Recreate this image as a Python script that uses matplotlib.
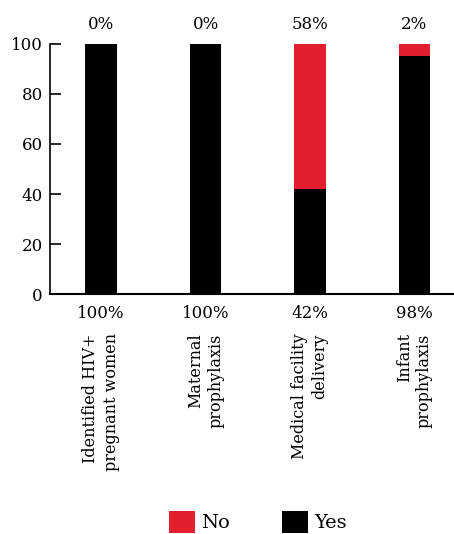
import matplotlib
matplotlib.use("Agg")
import matplotlib.pyplot as plt
from matplotlib.patches import Patch

plt.rcParams.update({
    "font.family": "DejaVu Serif",
    "font.size": 12,
})

categories = ["Identified HIV+\npregnant women", "Maternal\nprophylaxis",
              "Medical facility\ndelivery", "Infant\nprophylaxis"]
yes_vals = [100, 100, 42, 95]
no_vals = [0, 0, 58, 5]
yes_labels = ["100%", "100%", "42%", "98%"]
no_labels = ["0%", "0%", "58%", "2%"]

red = "#E31E2D"

fig = plt.figure(figsize=(4.54, 5.34), dpi=100)
ax = fig.add_axes([0.110, 0.449, 0.89, 0.469])

x = range(len(categories))
ax.bar(x, yes_vals, width=0.3, color="black", label="Yes")
ax.bar(x, no_vals, width=0.3, bottom=yes_vals, color=red, label="No")

ax.set_xlim(-0.49, 3.38)
ax.set_ylim(0, 100)
ax.set_yticks([0, 20, 40, 60, 80, 100])
ax.set_xticks([])
ax.tick_params(axis="y", direction="in", length=8, width=1.2, labelsize=12, pad=5)
for s in ["top", "right"]:
    ax.spines[s].set_visible(False)
ax.spines["left"].set_linewidth(1.2)
ax.spines["bottom"].set_linewidth(1.5)

trans = ax.get_xaxis_transform()
for i in x:
    ax.text(i, 1.076, no_labels[i], transform=trans, ha="center", va="center", fontsize=12)
    ax.text(i, -0.076, yes_labels[i], transform=trans, ha="center", va="center", fontsize=12)
    ax.text(i, -0.156, categories[i], transform=trans, ha="center", va="top",
            rotation=90, multialignment="right", fontsize=11.5, linespacing=1.25)

handles = [Patch(facecolor=red, label="No"), Patch(facecolor="black", label="Yes")]
fig.legend(handles=handles, loc="lower center", bbox_to_anchor=(0.568, -0.03), ncol=2,
           frameon=False, fontsize=14, handlelength=1.35, handleheight=1.35,
           handletextpad=0.3, columnspacing=2.7)

fig.savefig("out.png", dpi=100)
